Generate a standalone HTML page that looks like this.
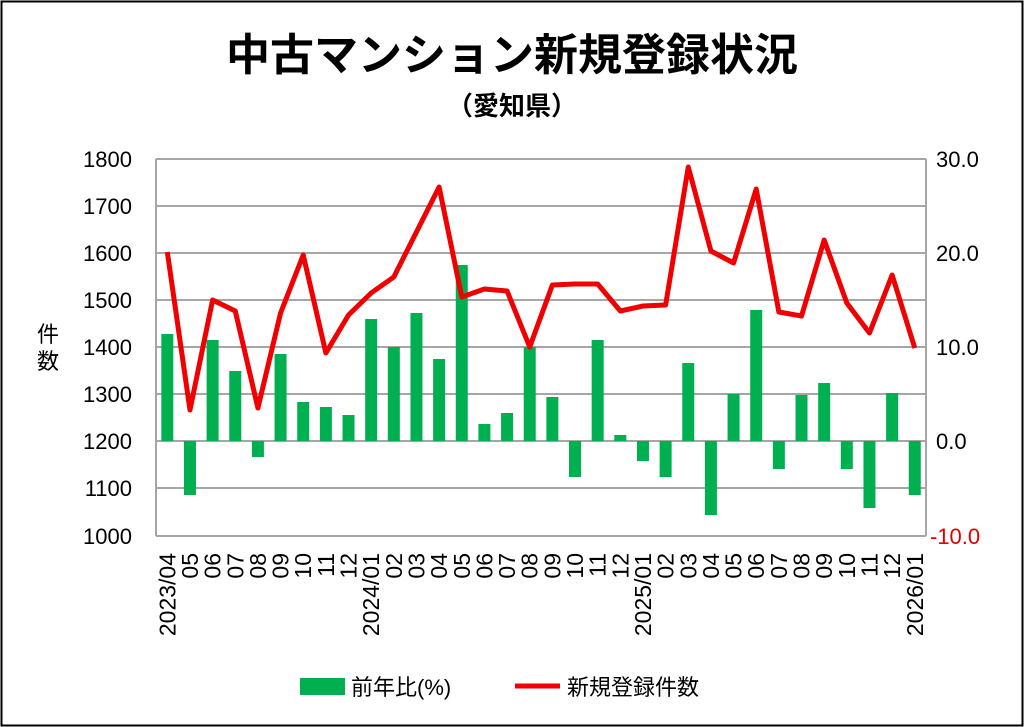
<!DOCTYPE html>
<html><head><meta charset="utf-8"><style>
body{margin:0;background:#fff}
svg{display:block}
text{font-family:"Liberation Sans","Noto Sans CJK JP",sans-serif}
</style></head><body>
<svg width="1024" height="727" viewBox="0 0 1024 727" xmlns="http://www.w3.org/2000/svg">
<rect x="1.5" y="1.5" width="1021" height="724" fill="#fff" stroke="#000" stroke-width="2"/>
<text x="512" y="70" text-anchor="middle" font-size="44" font-weight="bold">中古マンション新規登録状況</text>
<text x="512" y="115" text-anchor="middle" font-size="26" font-weight="bold">（愛知県）</text>
<g stroke="#a6a6a6" stroke-width="2">
<line x1="156" x2="926" y1="159" y2="159"/><line x1="156" x2="926" y1="206" y2="206"/>
<line x1="156" x2="926" y1="253" y2="253"/><line x1="156" x2="926" y1="300" y2="300"/>
<line x1="156" x2="926" y1="347" y2="347"/><line x1="156" x2="926" y1="394" y2="394"/>
<line x1="156" x2="926" y1="441" y2="441"/><line x1="156" x2="926" y1="488" y2="488"/>
<line x1="156" x2="926" y1="536" y2="536"/>
<line x1="156" x2="156" y1="159" y2="536"/><line x1="926" x2="926" y1="159" y2="536"/>
</g>
<g font-size="22" text-anchor="end">
<text x="132" y="167">1800</text><text x="132" y="214">1700</text><text x="132" y="261">1600</text>
<text x="132" y="308">1500</text><text x="132" y="355">1400</text><text x="132" y="402">1300</text>
<text x="132" y="449">1200</text><text x="132" y="496">1100</text><text x="132" y="544">1000</text>
</g>
<g font-size="22">
<text x="936" y="167">30.0</text><text x="936" y="261">20.0</text><text x="936" y="355">10.0</text>
<text x="936" y="449">0.0</text><text x="930" y="544" fill="#e00000">-10.0</text>
</g>
<text x="48" y="342" font-size="22" text-anchor="middle">件</text>
<text x="48" y="369" font-size="22" text-anchor="middle">数</text>
<g id="bars" fill="#00b050"></g>
<polyline id="line" fill="none" stroke="#f00000" stroke-width="5" stroke-linejoin="round"/>
<g id="labels" font-size="23"></g>
<rect x="300" y="678" width="45" height="17" fill="#00b050"/>
<text x="351" y="695" font-size="22">前年比(%)</text>
<line x1="515" x2="560" y1="686" y2="686" stroke="#f00000" stroke-width="5"/>
<text x="567" y="695" font-size="22">新規登録件数</text>
</svg>
<script>
var L=[252,410,300,311,408,313,255,353,315,293,277,232,187,297,289,291,347,285,284,284,311,306,305,167,251,263,189,312,316,240,303,333,275,348];
var B=[334,495,340,371,457,354,402,407,415,319,347,313,359,265,424,413,347,397,477,340,435,461,477,363,515,394,310,469,395,383,469,508,393,495];
var labs=["2023/04","05","06","07","08","09","10","11","12","2024/01","02","03","04","05","06","07","08","09","10","11","12","2025/01","02","03","04","05","06","07","08","09","10","11","12","2026/01"];
var ns="http://www.w3.org/2000/svg",g=document.getElementById("bars"),lg=document.getElementById("labels"),pts=[];
for(var i=0;i<34;i++){var cx=156+11.32+i*22.65;
var r=document.createElementNS(ns,"rect");var t=Math.min(B[i],441),h=Math.abs(B[i]-441);
r.setAttribute("x",cx-6);r.setAttribute("y",t);r.setAttribute("width",12);r.setAttribute("height",h);g.appendChild(r);
pts.push(cx+","+L[i]);
var tx=document.createElementNS(ns,"text");tx.setAttribute("text-anchor","end");
tx.setAttribute("transform","translate("+(cx+8)+",553) rotate(-90)");tx.textContent=labs[i];lg.appendChild(tx);}
document.getElementById("line").setAttribute("points",pts.join(" "));
</script>
</body></html>
